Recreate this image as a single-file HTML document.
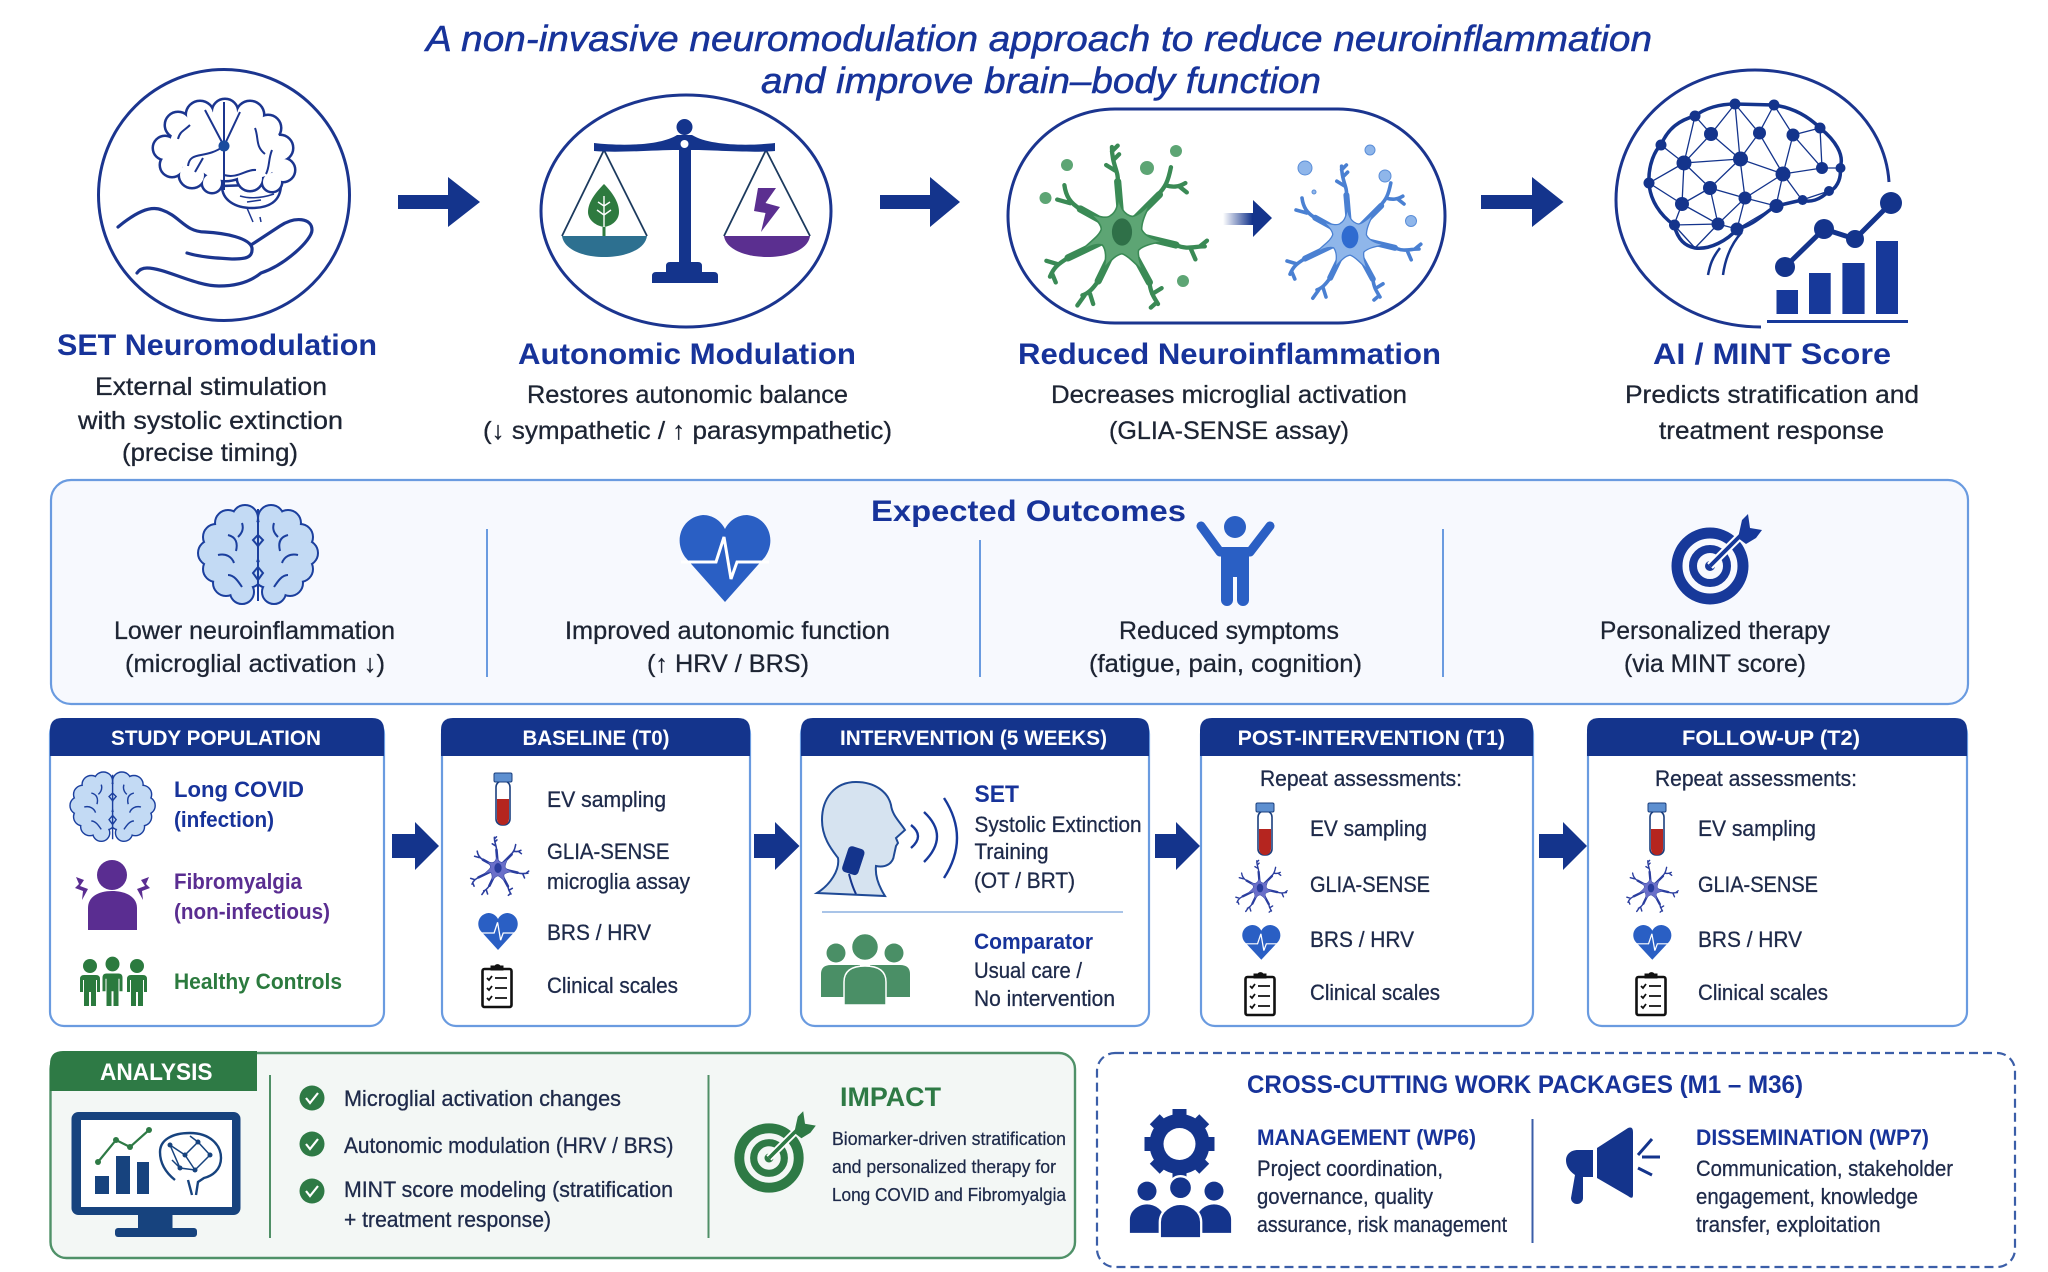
<!DOCTYPE html>
<html><head><meta charset="utf-8"><title>Neuromodulation study</title>
<style>
html,body{margin:0;padding:0;background:#fff}
svg{display:block}
text{font-family:"Liberation Sans",sans-serif}
.t{font-size:36px;font-style:italic;fill:#17339a;stroke:#17339a;stroke-width:.5}
.h{font-size:30px;font-weight:bold;fill:#17339a}
.d{font-size:25px;fill:#1d2433;stroke:#1d2433;stroke-width:.3}
.w{font-size:21px;font-weight:bold;fill:#fff}
.c{font-size:22px;fill:#1e2a4a;stroke:#1e2a4a;stroke-width:.3}
.b{font-size:22px;font-weight:bold;fill:#17339a}
.p{font-size:22px;font-weight:bold;fill:#5a2d91}
.g{font-size:22px;font-weight:bold;fill:#2b7a3e}
.s{font-size:18.5px;fill:#1e2a4a;stroke:#1e2a4a;stroke-width:.25}
.n{fill:#14348c}
</style></head><body>
<svg xmlns="http://www.w3.org/2000/svg" width="2048" height="1272" viewBox="0 0 2048 1272">
<defs>
<linearGradient id="fade" x1="0" x2="1" y1="0" y2="0"><stop offset="0" stop-color="#14348c" stop-opacity="0"/><stop offset=".6" stop-color="#14348c"/></linearGradient>
<g id="lobes">
<circle cx="47" cy="13" r="12"/><circle cx="30" cy="18" r="12"/><circle cx="18" cy="32" r="12"/><circle cx="13" cy="48" r="12"/><circle cx="18" cy="64" r="12"/><circle cx="28" cy="78" r="12"/><circle cx="44" cy="87" r="11"/><circle cx="50" cy="68" r="14"/><circle cx="38" cy="48" r="22"/><circle cx="50" cy="28" r="14"/>
<circle cx="73" cy="13" r="12"/><circle cx="90" cy="18" r="12"/><circle cx="102" cy="32" r="12"/><circle cx="107" cy="48" r="12"/><circle cx="102" cy="64" r="12"/><circle cx="92" cy="78" r="12"/><circle cx="76" cy="87" r="11"/><circle cx="70" cy="68" r="14"/><circle cx="82" cy="48" r="22"/><circle cx="70" cy="28" r="14"/>
</g>
<g id="brainTop">
<use href="#lobes" fill="#1b3f9e" stroke="#1b3f9e" stroke-width="4"/>
<use href="#lobes" fill="#c3daf4"/>
<path d="M60 4V96M60 30l-5 5 5 6 5-6zM60 62l-5 6 5 7 5-7zM30 30c8 2 10 8 8 16M20 50c8-2 14 2 16 8M30 70c6 0 10 6 14 12M90 30c-8 2-10 8-8 16M100 50c-8-2-14 2-16 8M90 70c-6 0-10 6-14 12M44 18c2 6 0 10-4 14M76 18c-2 6 0 10 4 14" fill="none" stroke="#1b3f9e" stroke-width="2"/>
</g>
<g id="sideLobes">
<circle cx="200" cy="115" r="13"/><circle cx="225" cy="112" r="12"/><circle cx="250" cy="115" r="13"/><circle cx="268" cy="128" r="12"/><circle cx="280" cy="148" r="12"/><circle cx="283" cy="170" r="11"/><circle cx="178" cy="125" r="12"/><circle cx="165" cy="148" r="11"/><circle cx="172" cy="165" r="11"/><circle cx="192" cy="175" r="12"/><circle cx="212" cy="183" r="9"/><circle cx="250" cy="178" r="12"/><circle cx="272" cy="182" r="9"/><circle cx="225" cy="145" r="35"/><circle cx="195" cy="145" r="25"/><circle cx="255" cy="150" r="28"/>
</g>
<g id="heart">
<path d="M46 87L6 42C-6 25 3 2 24 0C34 0 42 6 46 14C50 6 58 0 68 0C89 2 98 25 86 42Z" fill="#2a5fc4"/>
<path d="M2 47H30L37 47L45 22L52 64L58 47H90" fill="none" stroke="#fff" stroke-width="3"/>
</g>
<g id="tube">
<rect x="3" y="8" width="14" height="44" rx="6" fill="#fff" stroke="#1b3f7e" stroke-width="1.6"/>
<path d="M4 26H16V46a6 6 0 0 1-12 0Z" fill="#b5251f"/>
<rect x="1" y="0" width="18" height="9" rx="1.5" fill="#5d8fd0" stroke="#1b3f7e" stroke-width="1"/>
</g>
<g id="clip">
<rect x="1.5" y="6" width="29" height="38" rx="2" fill="#fff" stroke="#111" stroke-width="2.6"/>
<path d="M10 7V3h4a3 3 0 0 1 5 0h3v4z" fill="#111" stroke="#111"/>
<path d="M6 15l2 2 3-4M6 25l2 2 3-4M6 35l2 2 3-4M14 15h12M14 25h12M14 35h12" fill="none" stroke="#111" stroke-width="1.8"/>
</g>
<g id="micro">
<path d="M0 0L-6 -70M0 0L52 -52M0 0L75 18M0 0L38 70M0 0L-33 68M0 0L-75 36M0 0L-58 -32" fill="none" stroke-width="10" stroke-linecap="round"/>
<path transform="scale(.72)" d="M-6 -70C-4 -40 10 -32 20 -30C30 -32 40 -40 55 -55C45 -35 38 -20 38 -5C45 10 65 15 80 18C60 22 42 25 32 35C30 45 35 60 40 75C25 60 10 45 0 42C-15 45 -25 60 -35 70C-30 50 -30 35 -38 25C-50 22 -65 28 -80 38C-65 20 -45 10 -40 -5C-40 -15 -50 -25 -62 -35C-45 -30 -30 -25 -22 -32C-12 -38 -8 -50 -6 -70Z" stroke-width="3"/>
<path d="M-6 -68C-4 -85 -14 -92 -14 -118M-9 -85L-22 -93M-12 -100L-4 -108M-14 -112L-6 -120M50 -52C60 -62 64 -70 68 -90M60 -65C70 -62 78 -62 88 -68M80 -63L90 -55M75 18C90 25 100 20 115 20M95 22L102 38M108 20L118 12M38 70C40 85 44 90 50 100M42 86L55 78M48 98L40 105M-33 68C-40 78 -46 85 -55 88M-45 84L-40 100M-52 88L-62 102M-75 36C-90 45 -95 50 -100 62M-88 45L-105 40M-97 58L-92 70M-58 -32C-72 -40 -78 -50 -80 -65M-72 -40L-90 -45" fill="none" stroke-width="6" stroke-linecap="round"/>
<ellipse rx="14" ry="19" fill="currentColor" stroke="none"/>
</g>
<g id="target">
<circle r="33" fill="none" stroke="currentColor" stroke-width="11"/>
<circle r="17" fill="none" stroke="currentColor" stroke-width="8"/>
<circle r="5" fill="currentColor"/>
<path d="M0 0L34 -34" stroke="#fff" stroke-width="8"/>
<path d="M0 0L34 -34" stroke="currentColor" stroke-width="4"/>
<path d="M28 -28L32 -46L38 -52L40 -38L52 -36L46 -28L36 -22Z" fill="currentColor"/>
</g>
<g id="wpp">
<circle cx="0" cy="-22" r="10"/><path d="M-18 22V8C-18 -2 -8 -8 0 -8C8 -8 18 -2 18 8V22Z"/>
</g>
<g id="hc">
<circle r="7"/><path d="M-10 13q0-4 4-4h12q4 0 4 4V26h-3V14h-1V40h-5V26h-2V40h-5V14h-1V26h-3Z"/>
</g>
</defs>

<rect width="2048" height="1272" fill="#fff"/>

<!-- title -->
<text class="t" x="426" y="51" textLength="1226" lengthAdjust="spacingAndGlyphs">A non-invasive neuromodulation approach to reduce neuroinflammation</text>
<text class="t" x="761" y="93" textLength="560" lengthAdjust="spacingAndGlyphs">and improve brain–body function</text>

<!-- step 1 -->
<ellipse cx="224" cy="195" rx="125.500" ry="125.500" fill="none" stroke="#1b358f" stroke-width="3"/>
<path d="M222 186C222 200 235 208 252 208C268 208 281 202 281 184Z" fill="#fff" stroke="#1b358f" stroke-width="2.500"/>
<path d="M240 196c10 3 22 2 34-2M247 202l14-2" fill="none" stroke="#1b358f" stroke-width="1.500"/>
<use href="#sideLobes" fill="#1b358f" stroke="#1b358f" stroke-width="5"/>
<use href="#sideLobes" fill="#fff"/>
<path d="M224 102V190M224 146L205 110M224 146L240 112M224 146C205 160 190 150 188 166M195 172l8-14M224 175c14 4 22-6 32-5M255 128c4 10 0 18 10 26M190 125c-6 6-10 6-12 14M272 150c-4 10-2 16-6 24" fill="none" stroke="#1b358f" stroke-width="2"/>
<circle cx="224" cy="146" r="5.500" fill="#1b4c9e"/>
<path d="M247 208l6 14M260 217l1 5" stroke="#1b358f" stroke-width="1.500"/>
<path d="M118 227C135 213 150 205 162 210C180 216 185 232 205 232C225 233 250 238 252 248C253 258 245 259 232 259C215 258 200 257 187 253M251 245L280 226C295 216 312 218 312 230C312 240 285 265 261 273C250 282 235 286 219 286C195 286 165 268 147 268C142 268 139 270 137 273" fill="none" stroke="#1b358f" stroke-width="3.200" stroke-linecap="round"/>
<path class="n" d="M398 195H448V177L480 202L448 227V209H398Z"/>

<text class="h" x="57" y="355" textLength="320" lengthAdjust="spacingAndGlyphs">SET Neuromodulation</text>
<text class="d" x="95" y="395" textLength="232" lengthAdjust="spacingAndGlyphs">External stimulation</text>
<text class="d" x="78" y="429" textLength="265" lengthAdjust="spacingAndGlyphs">with systolic extinction</text>
<text class="d" x="122" y="461" textLength="176" lengthAdjust="spacingAndGlyphs">(precise timing)</text>

<!-- step 2 -->
<ellipse cx="686" cy="211" rx="145" ry="116" fill="none" stroke="#1b358f" stroke-width="3"/>
<path d="M604 150L562 236M604 150L647 236M766 150L724 236M766 150L810 236" stroke="#1c3a5e" stroke-width="1.800" fill="none"/>
<path d="M562 236H647C645 250 625 257 604 257C584 257 564 250 562 236Z" fill="#2d7090"/>
<path d="M724 236H810C808 250 788 257 767 257C747 257 726 250 724 236Z" fill="#5b2f90"/>
<path d="M604 184C612 192 619 202 619 212C619 220 612 226 604 227C596 226 588 220 588 212C588 202 596 192 604 184Z" fill="#2e7a3f"/>
<path d="M604 196V236M604 206l-6-4M604 206l6-4M604 215l-7-5M604 215l7-5" stroke="#fff" stroke-width="1.400" fill="none"/>
<path d="M604 227V236" stroke="#2e7a3f" stroke-width="3"/>
<polygon points="758,188 776,188 765.500,203 780,207 761,232 765.500,213 754,211" fill="#5b2f90"/>
<path class="n" d="M594 143C620 146 660 146 677 135H692C710 146 750 146 775 143V151C750 153 715 150 692 150H677C655 150 620 153 594 151Z"/>
<circle class="n" cx="684.500" cy="127" r="8"/>
<rect class="n" x="679" y="145" width="12" height="120"/>
<circle cx="684.500" cy="144" r="4" fill="#fff"/>
<path class="n" d="M666 272V266q0-4 4-4H698q4 0 4 4V272H714q4 0 4 4V283H652V276q0-4 4-4Z"/>
<path class="n" d="M880 195H930V177L960 202L930 227V209H880Z"/>

<text class="h" x="518" y="364" textLength="338" lengthAdjust="spacingAndGlyphs">Autonomic Modulation</text>
<text class="d" x="527" y="403" textLength="321" lengthAdjust="spacingAndGlyphs">Restores autonomic balance</text>
<text class="d" x="483" y="439" textLength="409" lengthAdjust="spacingAndGlyphs">(↓ sympathetic / ↑ parasympathetic)</text>

<!-- step 3 -->
<rect x="1008" y="109" width="437" height="214" rx="107" fill="none" stroke="#1b358f" stroke-width="3"/>
<use href="#micro" transform="translate(1122 232) scale(.72)" fill="#5da574" stroke="#3a8a55" color="#2f7048"/>
<use href="#micro" transform="translate(1350 237) scale(.6)" fill="#8fb6ea" stroke="#4a80d2" color="#2f6bd0"/>
<g fill="#5da574"><circle cx="1067" cy="165" r="6"/><circle cx="1176" cy="151" r="6"/><circle cx="1147" cy="168" r="7"/><circle cx="1045.500" cy="198" r="6"/><circle cx="1183" cy="281" r="6"/></g>
<g fill="#8fb6ea" stroke="#5b8ed8"><circle cx="1370" cy="150" r="5"/><circle cx="1305" cy="168" r="7"/><circle cx="1385" cy="176" r="6"/><circle cx="1411" cy="221" r="5.500"/><circle cx="1314" cy="192" r="2"/></g>
<path d="M1223 213H1253V200L1272 218L1253 237V225H1223Z" fill="url(#fade)"/>
<path class="n" d="M1481 195H1532V177L1563.500 202L1532 227V209H1481Z"/>

<text class="h" x="1018" y="364" textLength="423" lengthAdjust="spacingAndGlyphs">Reduced Neuroinflammation</text>
<text class="d" x="1051" y="403" textLength="356" lengthAdjust="spacingAndGlyphs">Decreases microglial activation</text>
<text class="d" x="1109" y="439" textLength="240" lengthAdjust="spacingAndGlyphs">(GLIA-SENSE assay)</text>

<!-- step 4 -->
<path d="M1889 182C1885 120 1830 70 1755 70C1675 70 1616 130 1616 200C1616 270 1680 327 1761 327" fill="none" stroke="#1b358f" stroke-width="3"/>
<path d="M1674 225C1660 215 1650 200 1649 183C1648 165 1655 150 1661 145C1668 128 1680 120 1695 116C1705 108 1720 104 1735 104L1774 105C1795 108 1810 118 1820 128C1835 140 1845 155 1840 168C1842 180 1835 190 1829 191C1820 200 1810 203 1802 200L1776 206C1765 212 1755 225 1737 229C1728 240 1710 250 1695 248C1685 246 1678 240 1674 225Z" fill="#fff" stroke="#14348c" stroke-width="3.500"/>
<path d="M1742 232C1730 245 1725 260 1723 275M1720 248C1712 258 1710 265 1708 275" fill="none" stroke="#14348c" stroke-width="2.500"/>
<path d="M1735 104L1711 134L1695 116M1735 104L1740 159M1735 104L1759 133L1774 105L1793 135L1820 128L1822 168L1793 135L1783 174L1759 133L1740 159L1711 134L1684 163L1661 145M1684 163L1649 183L1682 204L1684 163L1740 159L1783 174L1822 168L1840 168M1740 159L1710 188L1684 163M1710 188L1745 198L1783 174L1776 206L1745 198L1740 159M1783 174L1802 200L1829 191M1710 188L1682 204L1674 225L1718 224L1682 204M1718 224L1737 229L1745 198L1718 224L1710 188M1776 206L1737 229M1695 116L1684 163M1674 225L1695 248L1718 224" fill="none" stroke="#14348c" stroke-width="1.300"/>
<g class="n"><circle cx="1735" cy="104" r="5.500"/><circle cx="1774" cy="105" r="5.500"/><circle cx="1695" cy="116" r="5.500"/><circle cx="1820" cy="128" r="5.500"/><circle cx="1711" cy="134" r="7"/><circle cx="1759.500" cy="133" r="6.500"/><circle cx="1793" cy="135" r="6.500"/><circle cx="1661" cy="145" r="5.500"/><circle cx="1740.500" cy="159" r="7.500"/><circle cx="1684" cy="163" r="7.500"/><circle cx="1822" cy="168" r="6"/><circle cx="1840.500" cy="168" r="5"/><circle cx="1783" cy="174" r="7.500"/><circle cx="1649" cy="183" r="5.500"/><circle cx="1710" cy="188" r="7"/><circle cx="1829" cy="191" r="5"/><circle cx="1745" cy="198" r="6.500"/><circle cx="1802.600" cy="200" r="5"/><circle cx="1682" cy="204" r="7"/><circle cx="1776.500" cy="206" r="7"/><circle cx="1674.500" cy="225" r="5.500"/><circle cx="1718" cy="224" r="6.500"/><circle cx="1737" cy="229" r="6.500"/></g>
<g fill="#17399a"><rect x="1776.500" y="290" width="21.500" height="24"/><rect x="1809" y="273" width="21.700" height="41"/><rect x="1842.400" y="263" width="22.200" height="51"/><rect x="1876" y="241" width="22" height="73"/><rect x="1767" y="320" width="141" height="3"/></g>
<path d="M1785 267L1824 229L1855 239L1891 203" fill="none" stroke="#14348c" stroke-width="5"/>
<g class="n"><circle cx="1785" cy="267" r="10"/><circle cx="1824" cy="229" r="10"/><circle cx="1855" cy="239" r="9"/><circle cx="1891" cy="203" r="11"/></g>

<text class="h" x="1653" y="364" textLength="238" lengthAdjust="spacingAndGlyphs">AI / MINT Score</text>
<text class="d" x="1625" y="403" textLength="294" lengthAdjust="spacingAndGlyphs">Predicts stratification and</text>
<text class="d" x="1659" y="439" textLength="225" lengthAdjust="spacingAndGlyphs">treatment response</text>

<!-- Expected outcomes -->
<rect x="51" y="480" width="1917" height="224" rx="20" fill="#f7f9fe" stroke="#6a9be0" stroke-width="2.200"/>
<text class="h" x="871" y="521" textLength="315" lengthAdjust="spacingAndGlyphs">Expected Outcomes</text>
<path d="M487 529V677M980 540V677M1443 529V677" stroke="#6a9be0" stroke-width="2" fill="none"/>
<use href="#brainTop" transform="translate(198 505)"/>
<use href="#heart" transform="translate(679 515)"/>
<g fill="#2a5fc4">
<circle cx="1235" cy="527" r="11"/>
<path d="M1201 526L1220 552H1250L1270 526" fill="none" stroke="#2a5fc4" stroke-width="9" stroke-linecap="round" stroke-linejoin="round"/>
<path d="M1221 547H1249V600a6 6 0 0 1-12 0V577H1233V600a6 6 0 0 1-12 0Z"/>
</g>
<use href="#target" transform="translate(1710 566)" color="#17399a"/>
<text class="d" x="114" y="639" textLength="281" lengthAdjust="spacingAndGlyphs">Lower neuroinflammation</text>
<text class="d" x="125" y="672" textLength="260" lengthAdjust="spacingAndGlyphs">(microglial activation ↓)</text>
<text class="d" x="565" y="639" textLength="325" lengthAdjust="spacingAndGlyphs">Improved autonomic function</text>
<text class="d" x="647" y="672" textLength="162" lengthAdjust="spacingAndGlyphs">(↑ HRV / BRS)</text>
<text class="d" x="1119" y="639" textLength="220" lengthAdjust="spacingAndGlyphs">Reduced symptoms</text>
<text class="d" x="1089" y="672" textLength="273" lengthAdjust="spacingAndGlyphs">(fatigue, pain, cognition)</text>
<text class="d" x="1600" y="639" textLength="230" lengthAdjust="spacingAndGlyphs">Personalized therapy</text>
<text class="d" x="1624" y="672" textLength="182" lengthAdjust="spacingAndGlyphs">(via MINT score)</text>

<!-- Cards -->
<g fill="#fff" stroke="#6a9be0" stroke-width="2.200">
<rect x="50" y="720" width="334" height="306" rx="14"/>
<rect x="442" y="720" width="308" height="306" rx="14"/>
<rect x="801" y="720" width="348" height="306" rx="14"/>
<rect x="1201" y="720" width="332" height="306" rx="14"/>
<rect x="1588" y="720" width="379" height="306" rx="14"/>
</g>
<g class="n">
<path d="M50 756V730q0-12 12-12H372q12 0 12 12V756Z"/>
<path d="M441 756V730q0-12 12-12H738q12 0 12 12V756Z"/>
<path d="M801 756V730q0-12 12-12H1137q12 0 12 12V756Z"/>
<path d="M1200 756V730q0-12 12-12H1521q12 0 12 12V756Z"/>
<path d="M1587 756V730q0-12 12-12H1955q12 0 12 12V756Z"/>
<path d="M392 834H415V822L439 846L415 870V858H392Z"/>
<path d="M754 834H775V822L799.500 846L775 870V858H754Z"/>
<path d="M1155 834H1176V822L1200 846L1176 870V858H1155Z"/>
<path d="M1539 834H1563V822L1587 846L1563 870V858H1539Z"/>
</g>
<text class="w" x="111" y="745" textLength="210" lengthAdjust="spacingAndGlyphs">STUDY POPULATION</text>
<text class="w" x="522.500" y="745" textLength="147" lengthAdjust="spacingAndGlyphs">BASELINE (T0)</text>
<text class="w" x="840" y="745" textLength="267" lengthAdjust="spacingAndGlyphs">INTERVENTION (5 WEEKS)</text>
<text class="w" x="1237.600" y="745" textLength="267.400" lengthAdjust="spacingAndGlyphs">POST-INTERVENTION (T1)</text>
<text class="w" x="1682" y="745" textLength="178" lengthAdjust="spacingAndGlyphs">FOLLOW-UP (T2)</text>

<!-- card 1 -->
<use href="#brainTop" transform="translate(70 772) scale(.71 .7)"/>
<text class="b" x="174" y="797" textLength="130" lengthAdjust="spacingAndGlyphs">Long COVID</text>
<text class="b" x="174" y="827" textLength="100" lengthAdjust="spacingAndGlyphs">(infection)</text>
<g fill="#5a2d91">
<circle cx="112" cy="875" r="15"/>
<path d="M88 930V908C88 897 98 891 112 891C126 891 137 897 137 908V930Z"/>
<polygon points="76,877 84,880 80,886 88,889 82,900 83,891 75,888 79,884"/>
<polygon points="149,877 141,880 145,886 137,889 143,900 142,891 150,888 146,884"/>
</g>
<text class="p" x="174" y="889" textLength="128" lengthAdjust="spacingAndGlyphs">Fibromyalgia</text>
<text class="p" x="174" y="919" textLength="156" lengthAdjust="spacingAndGlyphs">(non-infectious)</text>
<g fill="#2b7a3e">
<use href="#hc" transform="translate(90 966)"/>
<use href="#hc" transform="translate(112.500 964) scale(1 1.05)"/>
<use href="#hc" transform="translate(137 966)"/>
</g>
<text class="g" x="174" y="989" textLength="168" lengthAdjust="spacingAndGlyphs">Healthy Controls</text>

<!-- card 2 -->
<use href="#tube" transform="translate(493 773)"/>
<text class="c" x="547" y="807" textLength="119" lengthAdjust="spacingAndGlyphs">EV sampling</text>
<use href="#micro" transform="translate(498 868) scale(.26)" fill="#6a6fc9" stroke="#2a3d9e" color="#2a3d9e"/>
<text class="c" x="547" y="859" textLength="122.500" lengthAdjust="spacingAndGlyphs">GLIA-SENSE</text>
<text class="c" x="547" y="889" textLength="143" lengthAdjust="spacingAndGlyphs">microglia assay</text>
<use href="#heart" transform="translate(478 913) scale(.435 .425)"/>
<text class="c" x="547" y="940" textLength="104" lengthAdjust="spacingAndGlyphs">BRS / HRV</text>
<use href="#clip" transform="translate(481 963)"/>
<text class="c" x="547" y="993" textLength="131" lengthAdjust="spacingAndGlyphs">Clinical scales</text>

<!-- card 3 -->
<path d="M856 782C835 782 822 798 822 820C822 838 832 850 838 858C840 870 830 885 817 893L885 896C878 885 875 875 876 866C885 868 893 864 894 855L896 846L898 843L896 838L905 830C900 822 892 815 891 805C888 792 875 782 856 782Z" fill="#d6e3f0" stroke="#1f4a96" stroke-width="2"/>
<rect x="845" y="847" width="17" height="27" rx="4" transform="rotate(18 853 860)" fill="#14348c"/>
<path d="M849 874C851 882 853 888 856 894" stroke="#14348c" stroke-width="2" fill="none"/>
<path d="M911 825Q925 836 911 848M924 812Q950 836 924 862M944 798Q970 838 944 878" fill="none" stroke="#17399a" stroke-width="2.400"/>
<text class="b" x="974.500" y="802" textLength="44.500" lengthAdjust="spacingAndGlyphs" style="font-size:24px">SET</text>
<text class="c" x="974.500" y="832" textLength="167" lengthAdjust="spacingAndGlyphs">Systolic Extinction</text>
<text class="c" x="974.500" y="859" textLength="74" lengthAdjust="spacingAndGlyphs">Training</text>
<text class="c" x="974" y="888" textLength="101" lengthAdjust="spacingAndGlyphs">(OT / BRT)</text>
<path d="M822 912H1123" stroke="#a9c4e8" stroke-width="2"/>
<g fill="#4a8f66">
<circle cx="836" cy="953" r="9.500"/><circle cx="894" cy="953" r="9.500"/>
<path d="M821 997V974q0-9 10-9H860V997ZM870 965H900q10 0 10 9V997H870Z"/>
<circle cx="865" cy="947" r="13.500" stroke="#fff" stroke-width="1.500"/>
<path d="M844 1005V982q0-16 21-16T886 982V1005Z" stroke="#fff" stroke-width="1.500"/>
</g>
<text class="b" x="974" y="949" textLength="119" lengthAdjust="spacingAndGlyphs">Comparator</text>
<text class="c" x="974" y="978" textLength="108" lengthAdjust="spacingAndGlyphs">Usual care /</text>
<text class="c" x="974" y="1006" textLength="141" lengthAdjust="spacingAndGlyphs">No intervention</text>

<!-- card 4 -->
<text class="c" x="1260" y="786" textLength="202" lengthAdjust="spacingAndGlyphs">Repeat assessments:</text>
<use href="#tube" transform="translate(1255 803)"/>
<text class="c" x="1310" y="836" textLength="117" lengthAdjust="spacingAndGlyphs">EV sampling</text>
<use href="#micro" transform="translate(1260 888) scale(.23)" fill="#6a6fc9" stroke="#2a3d9e" color="#2a3d9e"/>
<text class="c" x="1310" y="892" textLength="120" lengthAdjust="spacingAndGlyphs">GLIA-SENSE</text>
<use href="#heart" transform="translate(1242 925) scale(.42 .4)"/>
<text class="c" x="1310" y="947" textLength="104" lengthAdjust="spacingAndGlyphs">BRS / HRV</text>
<use href="#clip" transform="translate(1244 971)"/>
<text class="c" x="1310" y="1000" textLength="130" lengthAdjust="spacingAndGlyphs">Clinical scales</text>

<!-- card 5 -->
<text class="c" x="1655" y="786" textLength="202" lengthAdjust="spacingAndGlyphs">Repeat assessments:</text>
<use href="#tube" transform="translate(1647 803)"/>
<text class="c" x="1698" y="836" textLength="118" lengthAdjust="spacingAndGlyphs">EV sampling</text>
<use href="#micro" transform="translate(1651 888) scale(.23)" fill="#6a6fc9" stroke="#2a3d9e" color="#2a3d9e"/>
<text class="c" x="1698" y="892" textLength="120" lengthAdjust="spacingAndGlyphs">GLIA-SENSE</text>
<use href="#heart" transform="translate(1633 925) scale(.42 .4)"/>
<text class="c" x="1698" y="947" textLength="104" lengthAdjust="spacingAndGlyphs">BRS / HRV</text>
<use href="#clip" transform="translate(1635 971)"/>
<text class="c" x="1698" y="1000" textLength="130" lengthAdjust="spacingAndGlyphs">Clinical scales</text>

<!-- Analysis -->
<rect x="50.500" y="1053" width="1024.500" height="205" rx="16" fill="#f3f7f5" stroke="#4f9168" stroke-width="2.400"/>
<path d="M50 1091V1064q0-13 13-13H257V1091Z" fill="#2e7a45"/>
<text x="100" y="1080" textLength="112.500" lengthAdjust="spacingAndGlyphs" style="font-size:24px;font-weight:bold;fill:#fff">ANALYSIS</text>
<rect x="71.500" y="1112" width="169" height="103" rx="7" fill="#17437e"/>
<rect x="81" y="1120" width="151" height="87" fill="#fff"/>
<rect x="138" y="1215" width="34.500" height="14" fill="#17437e"/>
<rect x="115" y="1228" width="82" height="9" rx="3" fill="#17437e"/>
<g fill="#17437e"><rect x="95" y="1176" width="14" height="18"/><rect x="116" y="1156" width="14" height="38"/><rect x="137" y="1162" width="12" height="32"/></g>
<path d="M98 1162L116 1140L130 1147L149 1130" fill="none" stroke="#2e7a45" stroke-width="2.200"/>
<g fill="#2e7a45"><circle cx="98" cy="1162" r="3"/><circle cx="116" cy="1140" r="3"/><circle cx="130" cy="1147" r="3"/><circle cx="149" cy="1130" r="3"/></g>
<path d="M175 1180C165 1172 160 1162 160 1152C160 1140 172 1133 190 1133C210 1133 221 1145 221 1158C221 1170 212 1176 204 1178L198 1182L196 1195M188 1180L192 1195" fill="#fff" stroke="#17437e" stroke-width="2.400"/>
<path d="M170 1145L185 1155L198 1142L210 1155L195 1170L180 1168L170 1145M185 1155L195 1170M198 1142L190 1136M172 1160L180 1168" fill="none" stroke="#17437e" stroke-width="1.500"/>
<g fill="#17437e"><circle cx="170" cy="1145" r="2.500"/><circle cx="185" cy="1155" r="2.500"/><circle cx="198" cy="1142" r="2.500"/><circle cx="210" cy="1155" r="2.500"/><circle cx="195" cy="1170" r="2.500"/><circle cx="180" cy="1168" r="2.500"/></g>
<path d="M270 1075V1238M708.500 1075V1238" stroke="#4f8f66" stroke-width="2"/>
<g fill="#2e7a45"><circle cx="312" cy="1098" r="12.500"/><circle cx="312" cy="1144" r="12.500"/><circle cx="312" cy="1191" r="12.500"/></g>
<path d="M306 1098l4 5 8-10M306 1144l4 5 8-10M306 1191l4 5 8-10" fill="none" stroke="#fff" stroke-width="2.200"/>
<text class="c" x="344" y="1106" textLength="277" lengthAdjust="spacingAndGlyphs">Microglial activation changes</text>
<text class="c" x="344" y="1153" textLength="329.500" lengthAdjust="spacingAndGlyphs">Autonomic modulation (HRV / BRS)</text>
<text class="c" x="344" y="1197" textLength="329" lengthAdjust="spacingAndGlyphs">MINT score modeling (stratification</text>
<text class="c" x="344" y="1227" textLength="207" lengthAdjust="spacingAndGlyphs">+ treatment response)</text>
<text x="840" y="1106" textLength="101" lengthAdjust="spacingAndGlyphs" style="font-size:27px;font-weight:bold;fill:#2e7a45">IMPACT</text>
<use href="#target" transform="translate(769 1158) scale(.9)" color="#2e7a45"/>
<text class="s" x="832" y="1145" textLength="234" lengthAdjust="spacingAndGlyphs">Biomarker-driven stratification</text>
<text class="s" x="832" y="1173" textLength="224" lengthAdjust="spacingAndGlyphs">and personalized therapy for</text>
<text class="s" x="832" y="1201" textLength="234" lengthAdjust="spacingAndGlyphs">Long COVID and Fibromyalgia</text>

<!-- Work packages -->
<rect x="1097" y="1053" width="918" height="214" rx="18" fill="#fff" stroke="#3b5ea8" stroke-width="2.200" stroke-dasharray="9 5"/>
<text class="b" x="1247" y="1093" textLength="556" lengthAdjust="spacingAndGlyphs" style="font-size:25px">CROSS-CUTTING WORK PACKAGES (M1 – M36)</text>
<g class="n">
<g transform="translate(1179.500 1144)">
<circle r="23" fill="none" stroke="#14348c" stroke-width="14"/>
<rect x="-7" y="-35" width="14" height="70"/><rect x="-7" y="-35" width="14" height="70" transform="rotate(45)"/><rect x="-7" y="-35" width="14" height="70" transform="rotate(90)"/><rect x="-7" y="-35" width="14" height="70" transform="rotate(135)"/>
<circle r="16" fill="#fff"/>
</g>
<use href="#wpp" transform="translate(1147 1212) scale(.95)"/>
<use href="#wpp" transform="translate(1214 1212) scale(.95)"/>
<g stroke="#fff" stroke-width="2"><use href="#wpp" transform="translate(1180.500 1213) scale(1.15)"/></g>
</g>
<text class="b" x="1257" y="1145" textLength="219" lengthAdjust="spacingAndGlyphs">MANAGEMENT (WP6)</text>
<text class="c" x="1257" y="1176" textLength="186" lengthAdjust="spacingAndGlyphs">Project coordination,</text>
<text class="c" x="1257" y="1204" textLength="176" lengthAdjust="spacingAndGlyphs">governance, quality</text>
<text class="c" x="1257" y="1232" textLength="250" lengthAdjust="spacingAndGlyphs">assurance, risk management</text>
<path d="M1532.500 1119V1243" stroke="#3b5ea8" stroke-width="2"/>
<g class="n">
<path d="M1597 1148L1628 1128Q1633 1126 1633 1132V1195Q1633 1200 1628 1196L1597 1178Z"/>
<path d="M1593 1150V1177H1583V1198a6 6 0 0 1-12 0L1575 1175C1568 1170 1566 1165 1566 1160C1566 1155 1570 1150 1578 1150Z"/>
</g>
<path d="M1638 1155L1652 1139M1642 1157H1660M1638 1168L1652 1175" stroke="#14348c" stroke-width="3"/>
<text class="b" x="1696" y="1145" textLength="233" lengthAdjust="spacingAndGlyphs">DISSEMINATION (WP7)</text>
<text class="c" x="1696" y="1176" textLength="257" lengthAdjust="spacingAndGlyphs">Communication, stakeholder</text>
<text class="c" x="1696" y="1204" textLength="222" lengthAdjust="spacingAndGlyphs">engagement, knowledge</text>
<text class="c" x="1696" y="1232" textLength="184.600" lengthAdjust="spacingAndGlyphs">transfer, exploitation</text>
</svg>
</body></html>
